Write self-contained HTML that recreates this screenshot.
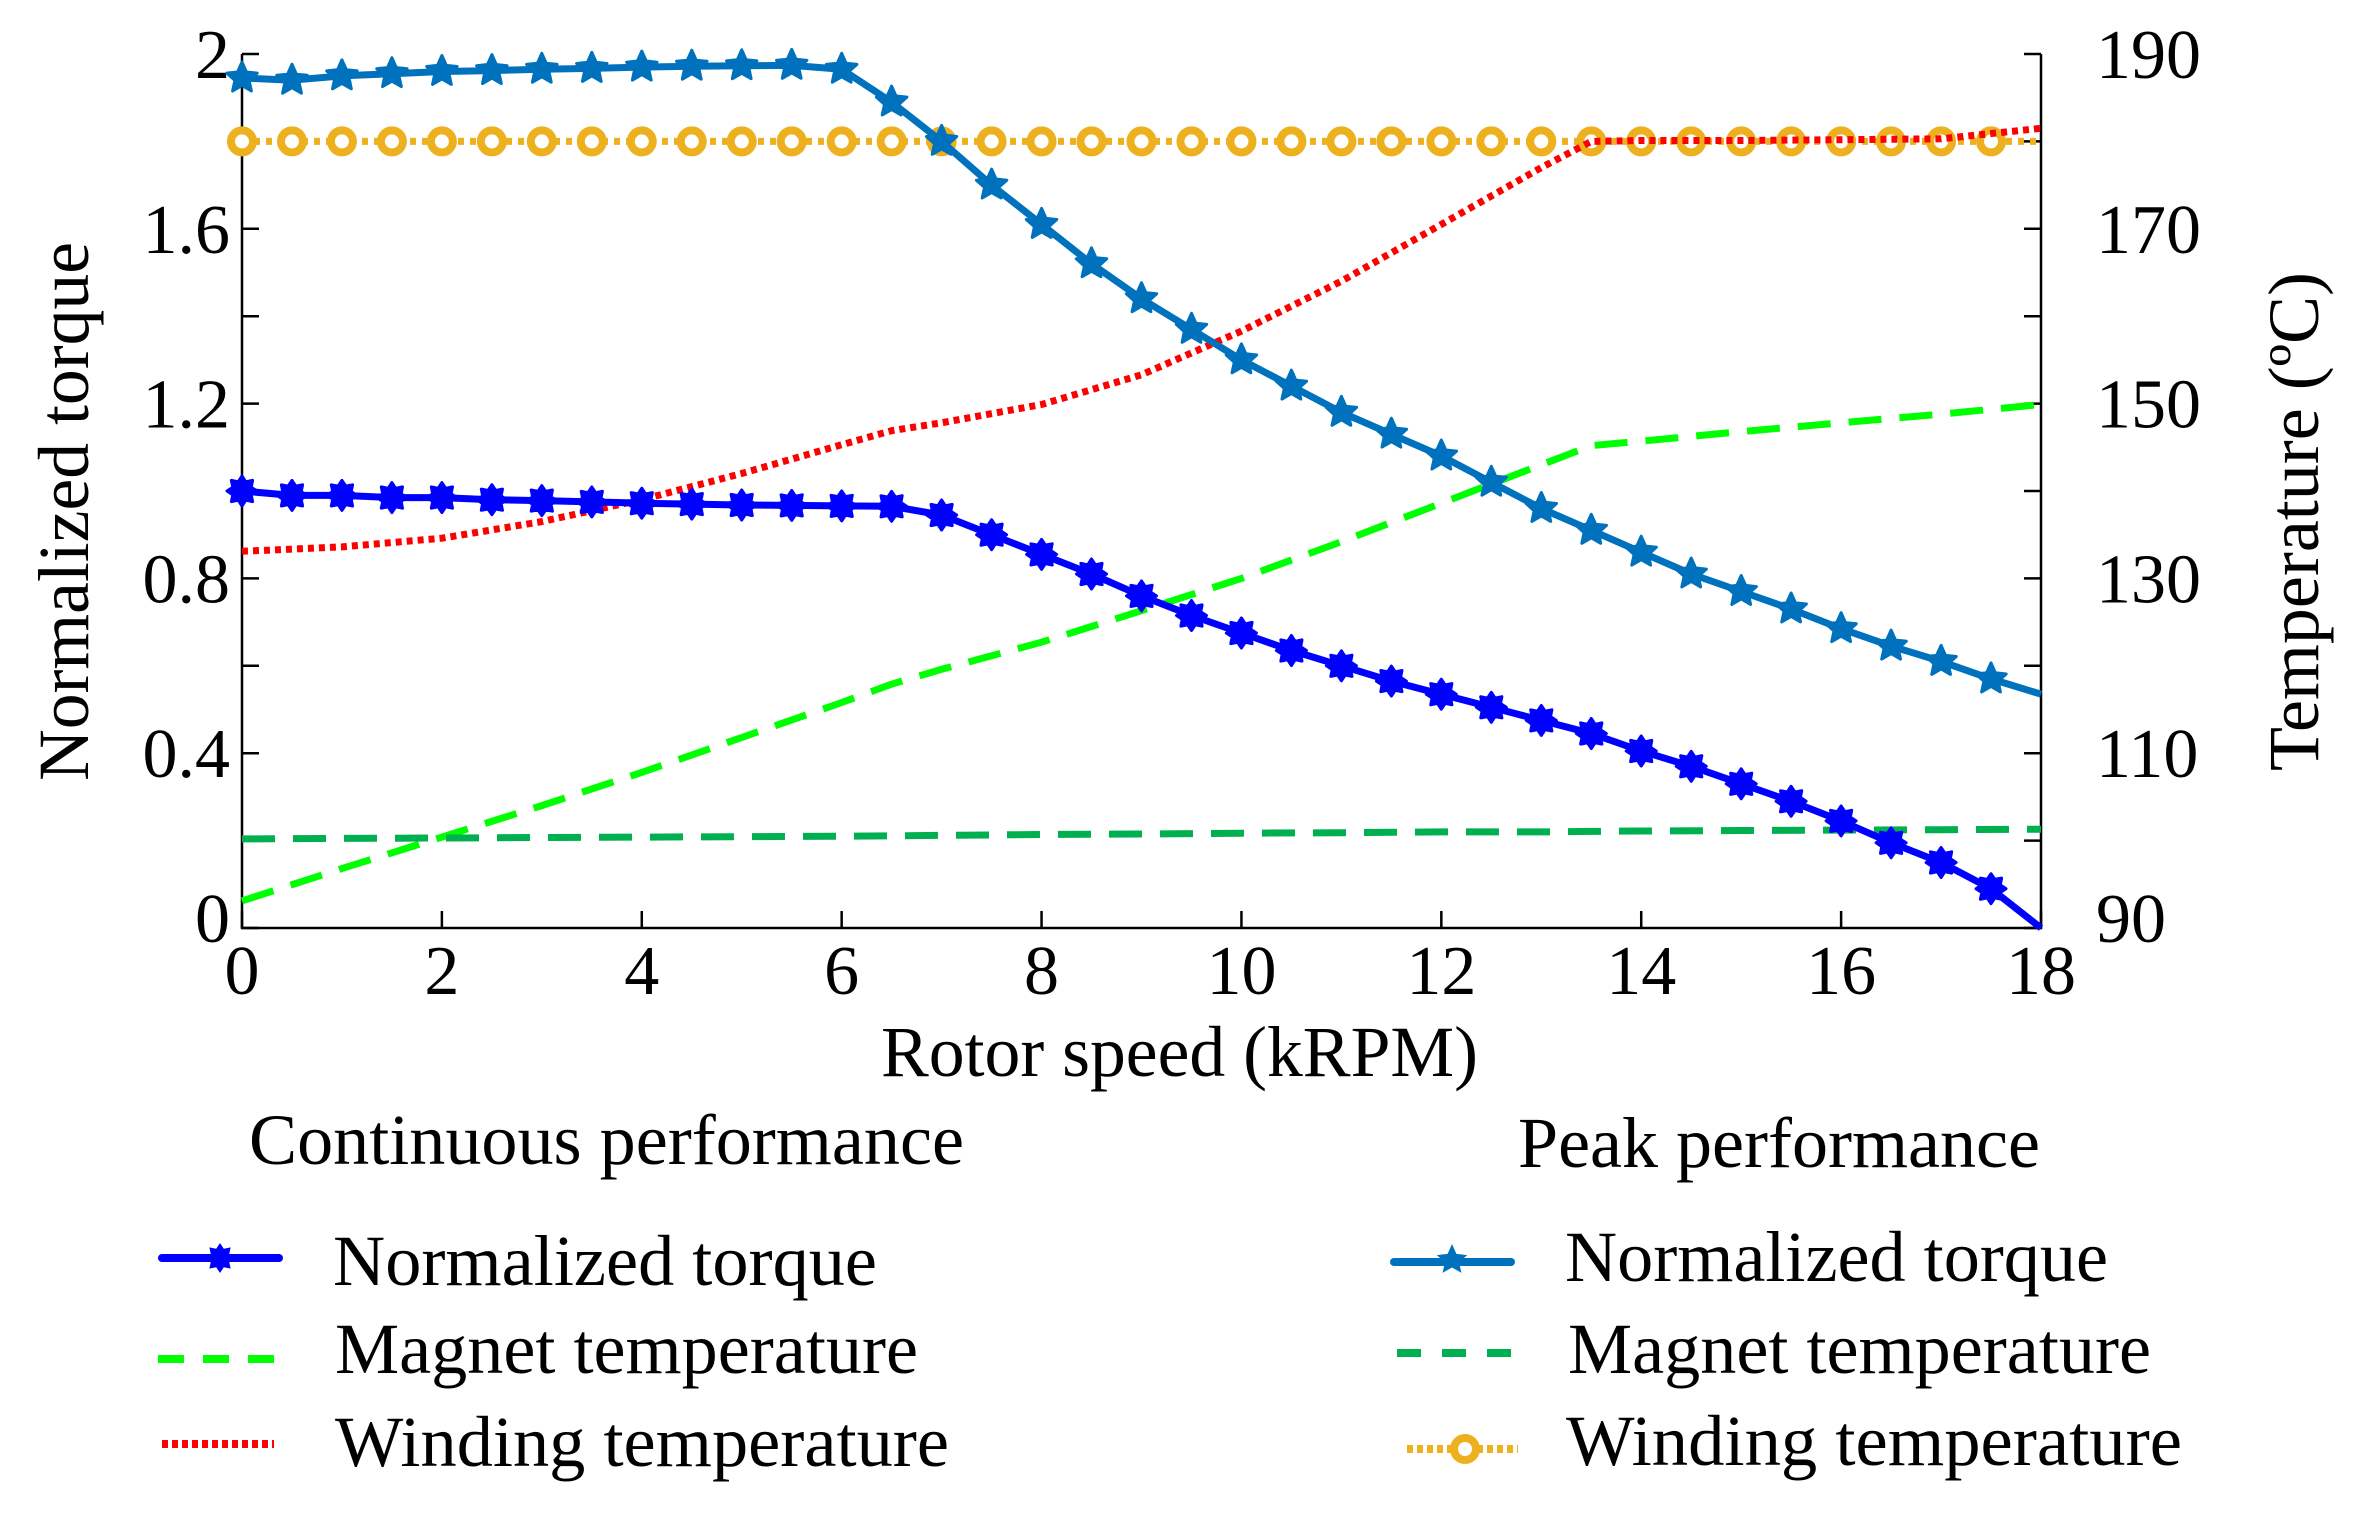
<!DOCTYPE html>
<html><head><meta charset="utf-8"><style>
html,body{margin:0;padding:0;background:#fff;}
svg{display:block;font-family:"Liberation Serif",serif;}
</style></head><body>
<svg id="chart" width="2370" height="1520" viewBox="0 0 2370 1520" xmlns="http://www.w3.org/2000/svg">
<g id="axes"></g>
<g id="series"></g>
<g id="legend"></g>
</svg>
<script>
// ---- data ----
const speedMarkers = [0,0.5,1,1.5,2,2.5,3,3.5,4,4.5,5,5.5,6,6.5,7,7.5,8,8.5,9,9.5,10,10.5,11,11.5,12,12.5,13,13.5,14,14.5,15,15.5,16,16.5,17,17.5,18];
const contTorque = [1.0,0.99,0.99,0.985,0.985,0.98,0.978,0.975,0.972,0.97,0.968,0.967,0.966,0.965,0.945,0.90,0.855,0.81,0.76,0.715,0.675,0.635,0.60,0.565,0.535,0.505,0.475,0.445,0.405,0.37,0.33,0.29,0.245,0.195,0.15,0.09,0.0];
const peakTorque = [1.945,1.94,1.95,1.955,1.96,1.962,1.965,1.967,1.97,1.972,1.973,1.974,1.965,1.89,1.80,1.70,1.61,1.52,1.44,1.37,1.30,1.24,1.18,1.13,1.08,1.02,0.96,0.91,0.86,0.81,0.77,0.73,0.685,0.645,0.61,0.57,0.535];
const peakWinding = [180,180,180,180,180,180,180,180,180,180,180,180,180,180,180,180,180,180,180,180,180,180,180,180,180,180,180,180,180,180,180,180,180,180,180,180,180];
const tempSpeed = [0,1,2,3,4,5,6,6.5,7,8,9,10,11,12,13,13.5,14,15,16,17,18];
const contMagnet = [93.1,96.8,100.4,104,107.8,111.8,115.8,117.9,119.6,122.7,126.3,130,134.2,138.6,143,145.2,145.7,146.8,147.8,148.8,149.9];
const contWinding = [133.1,133.6,134.6,136.5,139,142,145.3,146.9,147.8,149.9,153.3,158.3,164,170.5,177,180,180.1,180.1,180.2,180.3,181.5];
const peakMagnet = [100.2,100.25,100.3,100.35,100.4,100.45,100.5,100.55,100.6,100.7,100.75,100.85,100.9,101,101,101.05,101.1,101.15,101.2,101.25,101.3];
const xTicks = [0,2,4,6,8,10,12,14,16,18];
const yLeftTicks = [0,0.4,0.8,1.2,1.6,2];
const yLeftLabels = ["0","0.4","0.8","1.2","1.6","2"];
const yLeftMinor = [0.2,0.6,1.0,1.4,1.8];
const yRightTicks = [90,110,130,150,170,190];
const yRightMinor = [100,120,140,160,180];

// ---- scales ----
const X0=242, X1=2041, YB=928, YT=54;
const sx = v => X0 + (v/18)*(X1-X0);
const syL = v => YB - (v/2)*(YB-YT);
const syR = v => YB - ((v-90)/100)*(YB-YT);
const NS="http://www.w3.org/2000/svg";
function mk(tag, attrs, parent){const e=document.createElementNS(NS,tag);for(const k in attrs)e.setAttribute(k,attrs[k]);parent.appendChild(e);return e;}
const axes=document.getElementById('axes'), series=document.getElementById('series'), legend=document.getElementById('legend');

let l;
l=mk('path',{d:`M${X0},${YT} L${X0},${YB} L${X1},${YB} L${X1},${YT}`,fill:'none',stroke:'#000','stroke-width':2.5},axes);


const TL=17;
xTicks.forEach(v=>{
  const t=mk('line',{x1:sx(v),x2:sx(v),y1:YB,y2:YB-TL,stroke:'#000','stroke-width':2.5},axes);
  
  
  const tx=mk('text',{x:sx(v),y:994,'font-size':70,'text-anchor':'middle'},axes);
  tx.textContent=v;
  
  
});
yLeftTicks.concat(yLeftMinor).forEach(v=>{
  const t=mk('line',{x1:X0,x2:X0+TL,y1:syL(v),y2:syL(v),stroke:'#000','stroke-width':2.5},axes);
  
  
});
yLeftTicks.forEach((v,i)=>{
  const tx=mk('text',{x:230,y:syL(v)+(v===0?14:24),'font-size':70,'text-anchor':'end'},axes);
  tx.textContent=yLeftLabels[i];
  
  
});
yRightTicks.concat(yRightMinor).forEach(v=>{
  const t=mk('line',{x1:X1,x2:X1-TL,y1:syR(v),y2:syR(v),stroke:'#000','stroke-width':2.5},axes);
  
  
});
yRightTicks.forEach(v=>{
  const tx=mk('text',{x:2096,y:syR(v)+(v===90?14:24),'font-size':70,'text-anchor':'start'},axes);
  tx.textContent=v;
  
  
});
let tt;
tt=mk('text',{x:881,y:1076,'font-size':72,textLength:597,lengthAdjust:'spacingAndGlyphs'},axes);
tt.textContent='Rotor speed (kRPM)';


tt=mk('text',{x:0,y:0,'font-size':72,textLength:539,lengthAdjust:'spacingAndGlyphs',transform:'translate(88,781) rotate(-90)'},axes);
tt.textContent='Normalized torque';


tt=mk('text',{x:0,y:0,'font-size':72,textLength:499,lengthAdjust:'spacingAndGlyphs',transform:'translate(2318,771) rotate(-90)'},axes);
tt.textContent='Temperature (ºC)';



function pathD(xs, ys, fy){return xs.map((x,i)=>(i?'L':'M')+sx(x).toFixed(1)+','+fy(ys[i]).toFixed(1)).join(' ');}
function starPts(cx,cy,n,ro,ri){let p=[];for(let i=0;i<2*n;i++){const r=i%2?ri:ro;const a=-Math.PI/2+i*Math.PI/n;p.push((cx+r*Math.cos(a)).toFixed(1)+','+(cy+r*Math.sin(a)).toFixed(1));}return p.join(' ');}

l=mk('path',{d:pathD(tempSpeed,contMagnet,syR),fill:'none',stroke:'#00FF00','stroke-width':7,'stroke-dasharray':'33 18'},series);


l=mk('path',{d:pathD(tempSpeed,peakMagnet,syR),fill:'none',stroke:'#00B050','stroke-width':7,'stroke-dasharray':'33 18'},series);


l=mk('path',{d:pathD(speedMarkers,peakWinding,syR),fill:'none',stroke:'#EDB120','stroke-width':7,'stroke-dasharray':'6 6'},series);


speedMarkers.slice(0,-1).forEach((x,i)=>{
  const c=mk('circle',{cx:sx(x),cy:syR(peakWinding[i]),r:11,fill:'#fff',stroke:'#EDB120','stroke-width':8},series);
  
  
});
l=mk('path',{d:pathD(tempSpeed,contWinding,syR),fill:'none',stroke:'#FF0000','stroke-width':7,'stroke-dasharray':'6 5'},series);


l=mk('path',{d:pathD(speedMarkers,peakTorque,syL),fill:'none',stroke:'#0072BD','stroke-width':7,'stroke-linejoin':'round'},series);


speedMarkers.slice(0,-1).forEach((x,i)=>{
  const s=mk('polygon',{points:starPts(sx(x),syL(peakTorque[i]),5,16,7.5),fill:'#0072BD',stroke:'#0072BD','stroke-width':3,'stroke-linejoin':'round'},series);
  
  
});
l=mk('path',{d:pathD(speedMarkers,contTorque,syL),fill:'none',stroke:'#0000FF','stroke-width':7,'stroke-linejoin':'round'},series);


speedMarkers.slice(0,-1).forEach((x,i)=>{
  const s=mk('polygon',{points:starPts(sx(x),syL(contTorque[i]),8,15,10),fill:'#0000FF',stroke:'#0000FF','stroke-width':3,'stroke-linejoin':'round'},series);
  
  
});

function ltext(txt,x,y,w,name){const t=mk('text',{x:x,y:y,'font-size':72,textLength:w,lengthAdjust:'spacingAndGlyphs'},legend);t.textContent=txt;}
ltext('Continuous performance',249,1164,715,'legend-title-continuous');
ltext('Peak performance',1518,1167,522,'legend-title-peak');
ltext('Normalized torque',333,1285,544,'legend-label-continuous-torque');
ltext('Magnet temperature',335,1373,583,'legend-label-continuous-magnet');
ltext('Winding temperature',335,1466,614,'legend-label-continuous-winding');
ltext('Normalized torque',1565,1281,543,'legend-label-peak-torque');
ltext('Magnet temperature',1568,1373,583,'legend-label-peak-magnet');
ltext('Winding temperature',1566,1465,616,'legend-label-peak-winding');

l=mk('line',{x1:162,x2:279,y1:1258,y2:1258,stroke:'#0000FF','stroke-width':8,'stroke-linecap':'round'},legend);


l=mk('polygon',{points:starPts(220,1258,8,15,10),fill:'#0000FF'},legend);


l=mk('line',{x1:158,x2:280,y1:1359,y2:1359,stroke:'#00FF00','stroke-width':8,'stroke-dasharray':'26 19'},legend);


l=mk('line',{x1:162,x2:274,y1:1444,y2:1444,stroke:'#FF0000','stroke-width':8,'stroke-dasharray':'6 4'},legend);



l=mk('line',{x1:1394,x2:1511,y1:1262,y2:1262,stroke:'#0072BD','stroke-width':8,'stroke-linecap':'round'},legend);


l=mk('polygon',{points:starPts(1452,1260,5,16,7.5),fill:'#0072BD'},legend);


l=mk('line',{x1:1397,x2:1513,y1:1353,y2:1353,stroke:'#00B050','stroke-width':8,'stroke-dasharray':'24 21'},legend);


l=mk('line',{x1:1407,x2:1518,y1:1449,y2:1449,stroke:'#EDB120','stroke-width':8,'stroke-dasharray':'6 4'},legend);


l=mk('circle',{cx:1465,cy:1449,r:11,fill:'#fff',stroke:'#EDB120','stroke-width':8},legend);


</script>
</body></html>
